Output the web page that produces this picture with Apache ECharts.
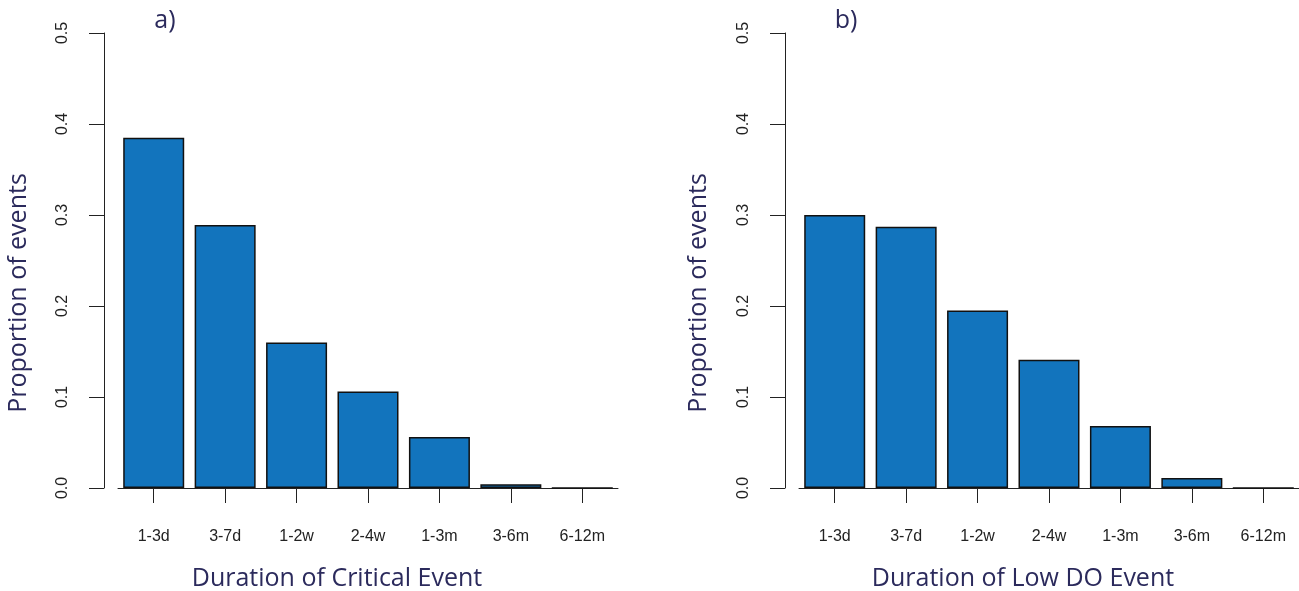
<!DOCTYPE html>
<html><head><meta charset="utf-8">
<script src="https://cdn.jsdelivr.net/npm/echarts@6/dist/echarts.min.js"></script>
<style>html,body{margin:0;padding:0;background:#fff}#c{width:1299px;height:591px}</style>
</head><body><div id="c"></div>
<script>
const categories = ['1-3d','3-7d','1-2w','2-4w','1-3m','3-6m','6-12m'];
const criticalValues = [0.385, 0.289, 0.160, 0.106, 0.056, 0.004, 0];
const lowDOValues = [0.300, 0.287, 0.195, 0.141, 0.068, 0.011, 0];
const yTicks = [0, 0.1, 0.2, 0.3, 0.4, 0.5];
const panelLabels = ['a)', 'b)'];
const xTitles = ['Duration of Critical Event', 'Duration of Low DO Event'];
const yTitle = 'Proportion of events';

const navy = '#2b2a5c';
const titleFont = '"Open Sans", Lato, sans-serif';
const tickFont = '"Liberation Sans", Arial, sans-serif';
const grids = [
  {left: 118, top: 33, width: 500, bottom: 103},
  {left: 799, top: 33, width: 500, bottom: 103}
];
const chart = echarts.init(document.getElementById('c'));
const xAxes = [], yAxes = [], series = [];
[criticalValues, lowDOValues].forEach((vals, i) => {
  xAxes.push({
    type: 'category', gridIndex: i, data: categories,
    axisLine: {show: true, lineStyle: {color: '#222', width: 1}},
    axisTick: {show: true, alignWithLabel: true, length: 15, lineStyle: {color: '#222'}},
    axisLabel: {margin: 41, fontFamily: tickFont, fontSize: 16, color: '#222'}
  });
  yAxes.push({
    type: 'value', gridIndex: i, min: 0, max: 0.5, interval: 0.1, offset: 14,
    axisLine: {show: true, lineStyle: {color: '#222', width: 1}},
    axisTick: {show: true, length: 15, lineStyle: {color: '#222'}},
    splitLine: {show: false},
    axisLabel: {rotate: 90, margin: 33, fontFamily: tickFont, fontSize: 16, color: '#222',
      formatter: v => v.toFixed(1)}
  });
  series.push({
    type: 'bar', xAxisIndex: i, yAxisIndex: i, data: vals, barWidth: 61,
    itemStyle: {color: '#1274bd', borderColor: '#111', borderWidth: 1.5},
    silent: true
  });
});
const tStyle = (text) => ({text: text, font: '400 25px ' + titleFont, fill: navy, align: 'center', verticalAlign: 'middle'});
const graphics = [
  {type: 'text', x: 165, y: 21, style: tStyle(panelLabels[0])},
  {type: 'text', x: 846, y: 21, style: tStyle(panelLabels[1])},
  {type: 'text', x: 337, y: 579, style: tStyle(xTitles[0])},
  {type: 'text', x: 1023, y: 579, style: tStyle(xTitles[1])},
  {type: 'text', x: 19, y: 293, rotation: Math.PI/2, style: tStyle(yTitle)},
  {type: 'text', x: 699, y: 293, rotation: Math.PI/2, style: tStyle(yTitle)}
];
chart.setOption({
  animation: false,
  grid: grids, xAxis: xAxes, yAxis: yAxes, series: series, graphic: graphics
});
</script></body></html>
